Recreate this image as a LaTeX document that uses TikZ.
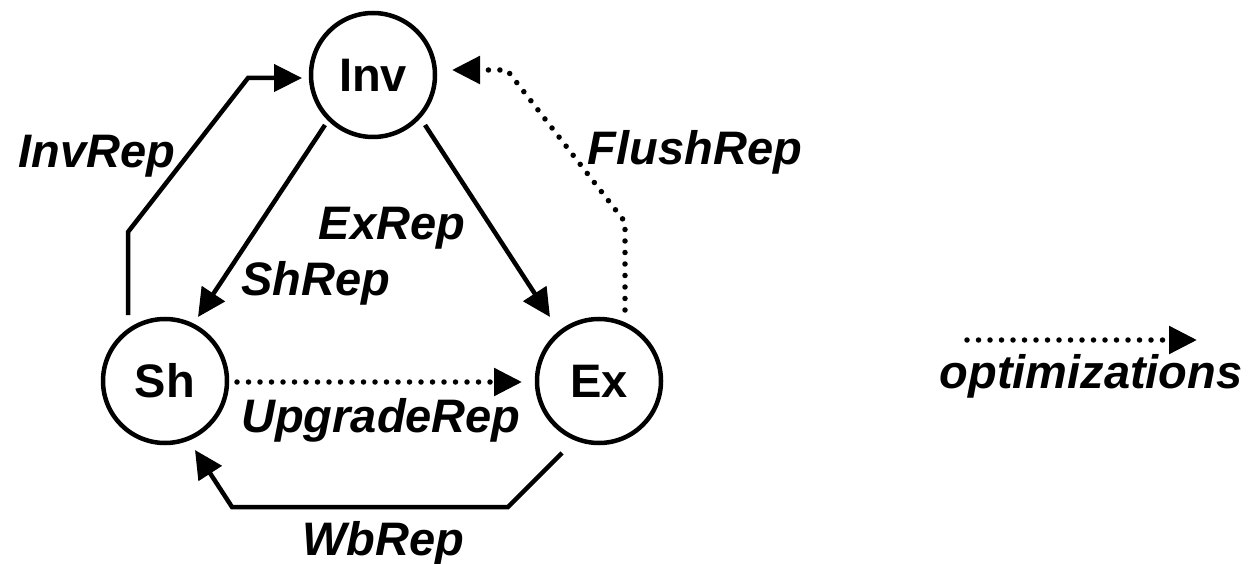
\documentclass[tikz,border=0pt]{standalone}
\usepackage{fontspec}
\setmainfont{Liberation Sans}
\usetikzlibrary{arrows.meta,calc}

\tikzset{
  state/.style={circle, draw, line width=4.5pt, minimum size=124pt, inner sep=0pt,
    font=\fontsize{47}{51}\selectfont\bfseries},
  lbl/.style={anchor=base, inner sep=0pt, font=\fontsize{47}{51}\selectfont\bfseries\itshape},
  arr/.style={line width=4.5pt, line join=miter, -{Triangle[length=28pt,width=27pt]}},
  optarr/.style={line width=5.5pt, line cap=round, dash pattern=on 0pt off 11.5pt,
    -{Triangle[length=28pt,width=27pt]}}
}

\begin{document}
\begin{tikzpicture}[x=1pt,y=-1pt]
\useasboundingbox[fill=white] (0,0) rectangle (1251,564);

% protocol states
\node[state] (inv) at (373,75) {Inv};
\node[state] (sh)  at (165,381) {Sh};
\node[state] (ex)  at (599,381) {Ex};

% transitions
\draw[arr] ($(sh)+(-37,-66)$) -- ($(sh)+(-37,-149)$) -- ($(inv)+(-125,3)$) -- ($(inv)+(-71,3)$);
\draw[arr] ($(inv)+(-48,50)$) -- ($(sh)+(33,-64)$);
\draw[arr] ($(inv)+(52,50)$) -- ($(ex)+(-49,-64)$);
\draw[optarr] ($(ex)+(26,-71)$) -- ($(ex)+(26,-159)$) -- ($(inv)+(134,-5)$) -- ($(inv)+(79,-5)$);
\draw[optarr] ($(sh)+(72,1)$) -- ($(ex)+(-77,1)$);
\draw[arr] ($(ex)+(-37,72)$) -- ($(ex)+(-91,126)$) -- ($(sh)+(67,126)$) -- ($(sh)+(30,69)$);

% transition labels
\node[lbl] (linv)   at (97,168)  {InvRep};
\node[lbl] (lflush) at (695,165) {FlushRep};
\node[lbl] (lex)    at (392,240) {ExRep};
\node[lbl] (lsh)    at (316,295) {ShRep};
\node[lbl] (lup)    at (381,432) {UpgradeRep};
\node[lbl] (lwb)    at (383,555) {WbRep};

% legend
\coordinate (legS) at (967,340);
\coordinate (legE) at (1197,340);
\draw[optarr] (legS) -- (legE);
\node[lbl] (lopt) at (1091,388) {optimizations};
\end{tikzpicture}
\end{document}
